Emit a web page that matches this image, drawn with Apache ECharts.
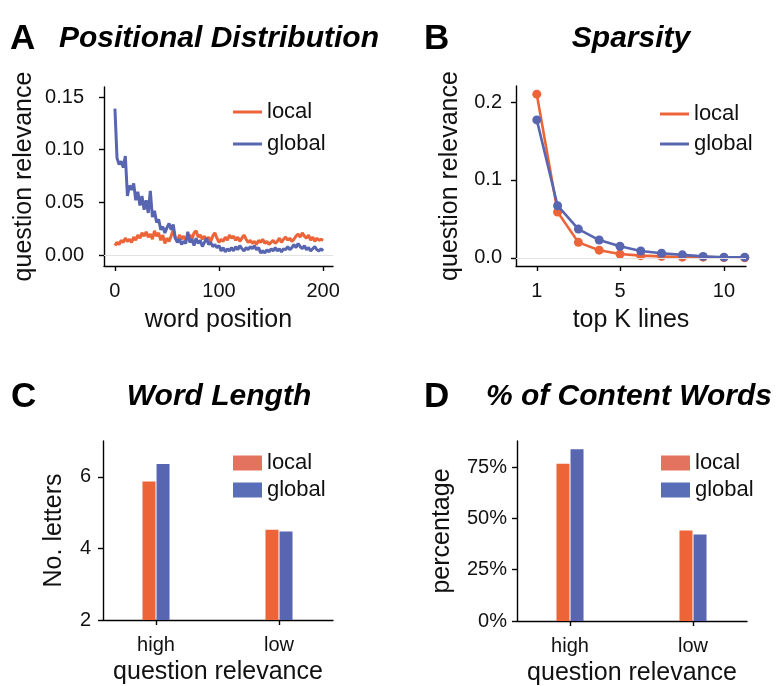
<!DOCTYPE html>
<html>
<head>
<meta charset="utf-8">
<script src="https://cdn.jsdelivr.net/npm/echarts@6/dist/echarts.min.js"></script>
<style>
  html, body { margin: 0; padding: 0; background: #fff; }
  #chart { width: 780px; height: 686px; }
</style>
</head>
<body>
<div id="chart"></div>
<script>
const ORANGE = '#EC6438'
const BLUE = '#5865B0'
const ORANGE_LEG = '#E3735F'
const BLUE_LEG = '#5A6DB7'
const FONT = '"Liberation Sans", Arial, sans-serif'

// A: positional distribution (every 2nd word position, 0..200)
const localRel = [
  0.009, 0.012, 0.010, 0.014, 0.012, 0.016, 0.013, 0.015, 0.012, 0.017,
  0.014, 0.019, 0.016, 0.021, 0.018, 0.022, 0.017, 0.020, 0.015, 0.023,
  0.018, 0.021, 0.014, 0.019, 0.011, 0.016, 0.013, 0.018, 0.024, 0.016,
  0.013, 0.019, 0.015, 0.018, 0.014, 0.017, 0.019, 0.015, 0.021, 0.023,
  0.017, 0.019, 0.015, 0.018, 0.014, 0.017, 0.013, 0.018, 0.021, 0.016,
  0.012, 0.015, 0.013, 0.017, 0.014, 0.019, 0.016, 0.018, 0.014, 0.017,
  0.013, 0.016, 0.019, 0.015, 0.012, 0.014, 0.011, 0.013, 0.010, 0.014,
  0.012, 0.015, 0.011, 0.013, 0.010, 0.012, 0.014, 0.011, 0.013, 0.016,
  0.012, 0.015, 0.017, 0.014, 0.016, 0.013, 0.015, 0.018, 0.020, 0.017,
  0.021, 0.018, 0.016, 0.019, 0.014, 0.017, 0.013, 0.016, 0.014, 0.015,
  0.014
]
const globalRel = [
  0.139, 0.092, 0.086, 0.089, 0.083, 0.094, 0.056, 0.066, 0.062, 0.068,
  0.052, 0.060, 0.047, 0.056, 0.043, 0.052, 0.040, 0.061, 0.036, 0.042,
  0.031, 0.034, 0.024, 0.027, 0.021, 0.026, 0.030, 0.024, 0.029, 0.016,
  0.012, 0.015, 0.010, 0.013, 0.011, 0.022, 0.012, 0.015, 0.009, 0.016,
  0.011, 0.014, 0.008, 0.012, 0.016, 0.010, 0.012, 0.008, 0.010, 0.007,
  0.009, 0.004, 0.007, 0.003, 0.006, 0.004, 0.007, 0.004, 0.008, 0.005,
  0.009, 0.006, 0.004, 0.007, 0.005, 0.008, 0.006, 0.009, 0.005, 0.007,
  0.002, 0.004, 0.002, 0.005, 0.003, 0.006, 0.004, 0.007, 0.004, 0.006,
  0.003, 0.006, 0.005, 0.008, 0.005, 0.007, 0.010, 0.007, 0.011, 0.008,
  0.006, 0.009, 0.005, 0.007, 0.004, 0.006, 0.008, 0.005, 0.004, 0.006,
  0.004
]
const wordPos = localRel.map((_, i) => i * 2)

// B: sparsity
const topK = [1, 2, 3, 4, 5, 6, 7, 8, 9, 10, 11]
const sparsLocal = [0.210, 0.059, 0.020, 0.010, 0.005, 0.003, 0.002, 0.001, 0.001, 0.0005, 0.0003]
const sparsGlobal = [0.177, 0.067, 0.037, 0.023, 0.015, 0.009, 0.006, 0.004, 0.002, 0.001, 0.001]

// C / D: bars
const categories = ['high', 'low']
const wordLenLocal = [5.87, 4.52]
const wordLenGlobal = [6.36, 4.47]
const contentLocal = [76.6, 44.1]
const contentGlobal = [83.7, 42.2]

const pairs = (xs, ys) => xs.map((x, i) => [x, ys[i]])

const axisLine = { lineStyle: { color: '#000', width: 1.4 } }
const axisTick = { length: 5, lineStyle: { color: '#000', width: 1.4 } }
const tickLabel = { color: '#111', fontSize: 20, fontFamily: FONT }
const nameStyle = { color: '#111', fontSize: 25, fontFamily: FONT }

const valueAxis = (idx, o) => Object.assign({
  type: 'value',
  gridIndex: idx,
  axisLine: Object.assign({ show: true, onZero: false }, axisLine),
  axisTick: Object.assign({ show: true, customValues: o.ticks }, axisTick),
  axisLabel: Object.assign({ customValues: o.ticks, margin: o.margin || 15, formatter: o.fmt }, tickLabel),
  splitLine: { show: false },
  nameLocation: 'middle',
  nameTextStyle: nameStyle
}, o.extra)

const zeroLine = {
  silent: true,
  symbol: 'none',
  label: { show: false },
  lineStyle: { color: '#e2e2e2', width: 1, type: 'solid' },
  data: [{ yAxis: 0 }]
}

const legendBase = {
  orient: 'vertical',
  itemGap: 9,
  textStyle: { color: '#111', fontSize: 22, fontFamily: FONT },
  selectedMode: false
}

const gridBox = (left, top, width, height) => ({ left, top, width, height, outerBoundsMode: 'none', containLabel: false })

const chart = echarts.init(document.getElementById('chart'))

chart.setOption({
  animation: false,
  backgroundColor: '#fff',
  grid: [
    gridBox(104, 87, 229, 179),
    gridBox(516, 86, 230, 180),
    gridBox(103, 441, 230, 179),
    gridBox(517, 441, 230, 180)
  ],
  xAxis: [
    valueAxis(0, { ticks: [0, 100, 200], extra: { min: -10.5, max: 209.5, name: 'word position', nameGap: 42 } }),
    valueAxis(1, { ticks: [1, 5, 10], extra: { min: 0, max: 11.06, name: 'top K lines', nameGap: 42 } }),
    valueAxis(2, { ticks: [0, 1], fmt: (v) => categories[v], extra: { min: -0.431, max: 1.439, name: 'question relevance', nameGap: 40 } }),
    valueAxis(3, { ticks: [0, 1], fmt: (v) => categories[v], extra: { min: -0.431, max: 1.439, name: 'question relevance', nameGap: 40 } })
  ],
  yAxis: [
    valueAxis(0, { ticks: [0, 0.05, 0.1, 0.15], margin: 20, fmt: (v) => v.toFixed(2), extra: { min: -0.0104, max: 0.1595, name: 'question relevance', nameGap: 67 } }),
    valueAxis(1, { ticks: [0, 0.1, 0.2], margin: 14, fmt: (v) => v.toFixed(1), extra: { min: -0.0103, max: 0.2205, name: 'question relevance', nameGap: 53 } }),
    valueAxis(2, { ticks: [2, 4, 6], margin: 12, fmt: (v) => String(v), extra: { min: 2, max: 7, name: 'No. letters', nameGap: 36 } }),
    valueAxis(3, { ticks: [0, 25, 50, 75], margin: 10, fmt: (v) => v + '%', extra: { min: 0, max: 87.7, name: 'percentage', nameGap: 62 } })
  ],
  legend: [
    Object.assign({}, legendBase, {
      left: 228, top: 96, itemWidth: 29, itemHeight: 3, itemGap: 10,
      data: [
        { name: 'local', icon: 'rect', itemStyle: { color: ORANGE } },
        { name: 'global', icon: 'rect', itemStyle: { color: BLUE } }
      ]
    }),
    Object.assign({}, legendBase, {
      left: 655, top: 98, itemWidth: 29, itemHeight: 3, itemGap: 8,
      data: [
        { name: 'local', icon: 'rect', itemStyle: { color: ORANGE } },
        { name: 'global', icon: 'rect', itemStyle: { color: BLUE } }
      ]
    }),
    Object.assign({}, legendBase, {
      left: 228, top: 447, itemWidth: 29, itemHeight: 15, itemGap: 5,
      data: [
        { name: 'local ', icon: 'rect', itemStyle: { color: ORANGE_LEG } },
        { name: 'global ', icon: 'rect', itemStyle: { color: BLUE_LEG } }
      ]
    }),
    Object.assign({}, legendBase, {
      left: 656, top: 447, itemWidth: 29, itemHeight: 15, itemGap: 5,
      data: [
        { name: 'local  ', icon: 'rect', itemStyle: { color: ORANGE_LEG } },
        { name: 'global  ', icon: 'rect', itemStyle: { color: BLUE_LEG } }
      ]
    })
  ],
  graphic: [
    { type: 'text', x: 10, y: 22, style: { text: 'A', font: 'bold 35px ' + FONT, fill: '#000' } },
    { type: 'text', x: 219, y: 24, style: { text: 'Positional Distribution', font: 'italic bold 30px ' + FONT, fill: '#000', align: 'center' } },
    { type: 'text', x: 424, y: 22, style: { text: 'B', font: 'bold 35px ' + FONT, fill: '#000' } },
    { type: 'text', x: 631, y: 24, style: { text: 'Sparsity', font: 'italic bold 30px ' + FONT, fill: '#000', align: 'center' } },
    { type: 'text', x: 11, y: 380, style: { text: 'C', font: 'bold 35px ' + FONT, fill: '#000' } },
    { type: 'text', x: 219, y: 382, style: { text: 'Word Length', font: 'italic bold 30px ' + FONT, fill: '#000', align: 'center' } },
    { type: 'text', x: 424, y: 380, style: { text: 'D', font: 'bold 35px ' + FONT, fill: '#000' } },
    { type: 'text', x: 629, y: 382, style: { text: '% of Content Words', font: 'italic bold 30px ' + FONT, fill: '#000', align: 'center' } }
  ],
  series: [
    {
      name: 'local', type: 'line', xAxisIndex: 0, yAxisIndex: 0,
      data: pairs(wordPos, localRel), showSymbol: false,
      lineStyle: { color: ORANGE, width: 3 }, itemStyle: { color: ORANGE },
      markLine: zeroLine, z: 2
    },
    {
      name: 'global', type: 'line', xAxisIndex: 0, yAxisIndex: 0,
      data: pairs(wordPos, globalRel), showSymbol: false,
      lineStyle: { color: BLUE, width: 3 }, itemStyle: { color: BLUE }, z: 3
    },
    {
      name: 'local', type: 'line', xAxisIndex: 1, yAxisIndex: 1,
      data: pairs(topK, sparsLocal), symbol: 'circle', symbolSize: 9,
      lineStyle: { color: ORANGE, width: 2.6 }, itemStyle: { color: ORANGE },
      markLine: zeroLine, z: 2
    },
    {
      name: 'global', type: 'line', xAxisIndex: 1, yAxisIndex: 1,
      data: pairs(topK, sparsGlobal), symbol: 'circle', symbolSize: 9,
      lineStyle: { color: BLUE, width: 2.6 }, itemStyle: { color: BLUE }, z: 3
    },
    {
      name: 'local ', type: 'bar', xAxisIndex: 2, yAxisIndex: 2,
      data: pairs([0, 1], wordLenLocal), barWidth: 13, barGap: '8%',
      itemStyle: { color: ORANGE }
    },
    {
      name: 'global ', type: 'bar', xAxisIndex: 2, yAxisIndex: 2,
      data: pairs([0, 1], wordLenGlobal), barWidth: 13, barGap: '8%',
      itemStyle: { color: BLUE }
    },
    {
      name: 'local  ', type: 'bar', xAxisIndex: 3, yAxisIndex: 3,
      data: pairs([0, 1], contentLocal), barWidth: 13, barGap: '8%',
      itemStyle: { color: ORANGE }
    },
    {
      name: 'global  ', type: 'bar', xAxisIndex: 3, yAxisIndex: 3,
      data: pairs([0, 1], contentGlobal), barWidth: 13, barGap: '8%',
      itemStyle: { color: BLUE }
    }
  ]
})
</script>
</body>
</html>
